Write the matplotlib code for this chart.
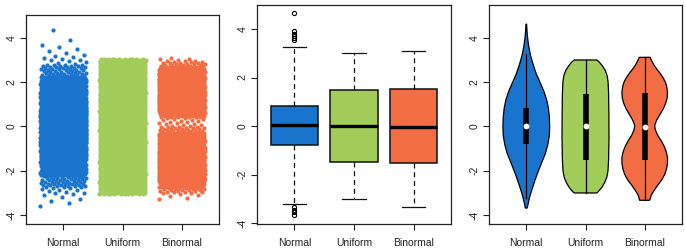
import matplotlib
matplotlib.use("Agg")
import matplotlib.pyplot as plt
import numpy as np

plt.rcParams["font.family"] = ["Liberation Sans", "DejaVu Sans"]

groups = ["Normal", "Uniform", "Binormal"]
colors = ["#1874CD", "#A2CD5A", "#F26D43"]

# strip chart: quantile tables (prob -> value)
n_points = 2600
normal_p = [0, 0.0005, 0.002, 0.006, 0.025, 0.1, 0.25, 0.5, 0.75, 0.9, 0.975, 0.993, 0.997, 0.9993, 1]
normal_q = [-3.7, -3.45, -3.1, -2.75, -2.2, -1.5, -0.78, 0.04, 0.84, 1.6, 2.25, 2.8, 3.2, 3.75, 4.6]
uniform_p = [0, 0.25, 0.5, 0.75, 1]
uniform_q = [-3.05, -1.5, 0.01, 1.47, 3.05]
binormal_p = [0, 0.002, 0.01, 0.03, 0.15, 0.25, 0.4, 0.49, 0.5, 0.503, 0.508, 0.52,
              0.6, 0.75, 0.85, 0.97, 0.99, 0.998, 1]
binormal_q = [-3.3, -3.0, -2.75, -2.5, -1.95, -1.53, -0.9, -0.3, -0.03, 0.12, 0.42, 0.6,
              0.95, 1.51, 1.95, 2.5, 2.7, 2.95, 3.1]

# boxplot stats
box_med = [0.04, 0.01, -0.03]
box_q1 = [-0.78, -1.50, -1.53]
box_q3 = [0.84, 1.47, 1.51]
box_lo = [-3.22, -3.02, -3.33]
box_hi = [3.26, 3.02, 3.10]
normal_fliers = [3.55, 3.62, 3.70, 3.78, 3.90, 4.65, -3.35, -3.45, -3.55, -3.65]

# violin outlines: y level -> half width (x units)
normal_vy = [4.62, 4.3, 4.0, 3.6, 3.2, 2.8, 2.4, 2.0, 1.6, 1.2, 0.8, 0.4, 0.0,
             -0.4, -0.8, -1.2, -1.6, -2.0, -2.4, -2.8, -3.2, -3.5, -3.68]
normal_vw = [0.005, 0.012, 0.022, 0.042, 0.072, 0.115, 0.165, 0.23, 0.295, 0.345, 0.375, 0.39, 0.395,
             0.39, 0.365, 0.325, 0.265, 0.205, 0.15, 0.10, 0.055, 0.03, 0.015]
uniform_vy = [3.0, 2.9, 2.75, 2.55, 2.3, 2.0, 1.5, 0.5, -0.5, -1.5, -2.0, -2.3, -2.55, -2.75, -2.9, -3.0]
uniform_vw = [0.19, 0.235, 0.28, 0.33, 0.365, 0.382, 0.39, 0.395, 0.397, 0.39, 0.38, 0.36, 0.32, 0.275, 0.23, 0.19]
binormal_vy = [3.12, 2.95, 2.8, 2.6, 2.4, 2.2, 2.0, 1.8, 1.55, 1.3, 1.05, 0.8, 0.55, 0.3, 0.1, 0.0,
               -0.15, -0.4, -0.65, -0.9, -1.15, -1.4, -1.65, -1.9, -2.15, -2.4, -2.65, -2.9, -3.1, -3.33]
binormal_vw = [0.09, 0.12, 0.15, 0.2, 0.26, 0.31, 0.35, 0.372, 0.385, 0.38, 0.355, 0.315, 0.26, 0.205, 0.175, 0.17,
               0.18, 0.22, 0.28, 0.33, 0.365, 0.385, 0.385, 0.37, 0.34, 0.29, 0.22, 0.155, 0.11, 0.085]

fig = plt.figure(figsize=(6.86, 2.52), dpi=100)
W, H = 686, 252


def style_ax(ax, ylim):
    ax.set_xlim(0.37, 3.63)
    ax.set_ylim(*ylim)
    ax.set_xticks([1, 2, 3])
    ax.set_xticklabels(groups)
    ax.set_yticks([-4, -2, 0, 2, 4])
    ax.set_yticklabels(["-4", "-2", "0", "2", "4"], rotation=90, va="center")
    ax.tick_params(direction="out", length=4.3, width=0.8, labelsize=7.5, colors="#222222")
    ax.tick_params(axis="x", pad=5.5)
    ax.tick_params(axis="y", pad=2.5)
    for s in ax.spines.values():
        s.set_linewidth(0.9)
        s.set_color("#222222")


def make_ax(left, top, right, bottom):
    return fig.add_axes([left / W, 1 - bottom / H, (right - left) / W, (bottom - top) / H])


# ---- strip chart
ax1 = make_ax(26, 15, 219, 224)
tables = [(normal_p, normal_q), (uniform_p, uniform_q), (binormal_p, binormal_q)]
probs = (np.arange(n_points) + 0.5) / n_points
jit = (np.arange(n_points) * 0.6180339887) % 1.0
for i, (pp, qq) in enumerate(tables):
    ys = np.interp(probs, pp, qq)
    xs = i + 1 + (jit - 0.5) * 0.78
    ax1.scatter(xs, ys, s=9, color=colors[i], linewidths=0, zorder=2)
style_ax(ax1, (-4.40, 5.03))

# ---- boxplot
ax2 = make_ax(257, 5, 451, 224)
stats = []
for i in range(3):
    fl = normal_fliers if i == 0 else []
    stats.append(dict(med=box_med[i], q1=box_q1[i], q3=box_q3[i],
                      whislo=box_lo[i], whishi=box_hi[i], fliers=fl))
bp = ax2.bxp(stats, positions=[1, 2, 3], widths=0.8, patch_artist=True,
             boxprops=dict(linewidth=1.1, edgecolor="#111111"),
             medianprops=dict(color="black", linewidth=2.4, solid_capstyle="butt"),
             whiskerprops=dict(color="#111111", linewidth=0.9, linestyle=(0, (4, 3))),
             capprops=dict(color="#111111", linewidth=0.9),
             flierprops=dict(marker="o", markersize=3, markerfacecolor="none",
                             markeredgecolor="black", markeredgewidth=0.8),
             capwidths=0.4)
for patch, c in zip(bp["boxes"], colors):
    patch.set_facecolor(c)
style_ax(ax2, (-4.04, 4.99))

# ---- violin
ax3 = make_ax(489, 5, 682, 224)
outlines = [(normal_vy, normal_vw), (uniform_vy, uniform_vw), (binormal_vy, binormal_vw)]
for i, (vy, vw) in enumerate(outlines):
    x0 = i + 1
    vy = np.array(vy)
    vw = np.array(vw)
    ax3.fill(np.concatenate([x0 - vw, (x0 + vw)[::-1]]),
             np.concatenate([vy, vy[::-1]]),
             facecolor=colors[i], edgecolor="black", linewidth=0.9, zorder=2)
    ax3.plot([x0, x0], [box_lo[i], box_hi[i]], color="black", lw=0.9, zorder=3)
    ax3.plot([x0, x0], [box_q1[i], box_q3[i]], color="black", lw=4.0,
             solid_capstyle="butt", zorder=4)
    ax3.plot([x0], [box_med[i]], marker="o", markersize=4.2, color="white",
             markeredgewidth=0, zorder=5)
style_ax(ax3, (-4.40, 5.48))

fig.savefig("out.png", dpi=100)
